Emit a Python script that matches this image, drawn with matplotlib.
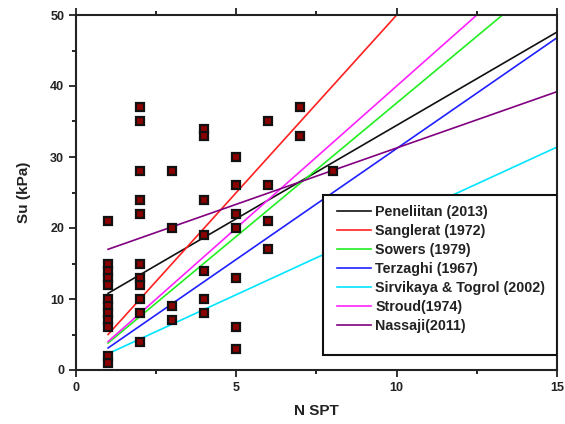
import matplotlib
matplotlib.use("Agg")
import matplotlib.pyplot as plt
from matplotlib.patches import Rectangle
from matplotlib.ticker import MultipleLocator

plt.rcParams['font.family'] = ['Liberation Sans', 'DejaVu Sans']

# Measured data points (N SPT, Su kPa)
n_pts = [1]*12 + [2]*11 + [3]*4 + [4]*7 + [5]*7 + [6]*4 + [7]*2 + [8]
su_pts = [21, 15, 14, 13, 12, 10, 9, 8, 7, 6, 2, 1,
          37, 35, 28, 24, 22, 15, 13, 12, 10, 8, 4,
          28, 20, 9, 7,
          34, 33, 24, 19, 14, 10, 8,
          30, 26, 22, 20, 13, 6, 3,
          35, 26, 21, 17,
          37, 33,
          28]

# Correlation lines: start/end points
labels = ["Peneliitan (2013)", "Sanglerat (1972)", "Sowers (1979)", "Terzaghi (1967)",
          "Sirvikaya & Togrol (2002)", "Stroud(1974)", "Nassaji(2011)"]
colors = ["#111111", "#ff2020", "#22ee22", "#2020ff", "#00e5ff", "#ff22ff", "#800080"]
line_n = [[1, 15], [1, 10], [1, 13.3], [1, 15], [1, 15], [1, 12.5], [1, 15]]
line_su = [[10.8, 47.6], [5.0, 50], [3.8, 50], [3.1, 46.8], [2.3, 31.4], [4.0, 50], [17.0, 39.2]]

x_ticks = [0, 5, 10, 15]
y_ticks = [0, 10, 20, 30, 40, 50]

fig = plt.figure(figsize=(5.65, 4.24), dpi=100)
ax = fig.add_axes([76/565, 54/424, 481/565, 355/424])

handles = []
for lab, c, xs, ys in zip(labels, colors, line_n, line_su):
    h, = ax.plot(xs, ys, color=c, lw=1.2, label=lab, zorder=2)
    handles.append(h)

ax.plot(n_pts, su_pts, linestyle='none', marker='s', ms=5.8,
        markerfacecolor='#8b0000', markeredgecolor='#111111', mew=1.6, zorder=3)

ax.set_xlim(0, 15)
ax.set_ylim(0, 50)
ax.set_xticks(x_ticks)
ax.set_yticks(y_ticks)
ax.xaxis.set_minor_locator(MultipleLocator(2.5))
ax.yaxis.set_minor_locator(MultipleLocator(5))
ax.tick_params(which='major', direction='out', length=5, width=1.3, labelsize=9,
               colors='#222222', top=True, right=False)
ax.tick_params(which='minor', direction='out', length=3, width=1.2, top=True, right=False)
for lbl in ax.get_xticklabels() + ax.get_yticklabels():
    lbl.set_fontweight('bold')
for s in ax.spines.values():
    s.set_linewidth(1.5)
    s.set_color('#222222')

ax.set_xlabel("N SPT", fontsize=11, fontweight='bold', color='#222222', labelpad=7)
ax.set_ylabel("Su (kPa)", fontsize=11, fontweight='bold', color='#222222', labelpad=14)

# legend box
ax.add_patch(Rectangle((0.5135, 0.042), 0.4865, 0.451, transform=ax.transAxes,
                       fill=True, facecolor='white', edgecolor='#111111', lw=1.5, zorder=4))
leg = ax.legend(handles=handles, loc='upper left', bbox_to_anchor=(0.536, 0.474),
                frameon=False, fontsize=10.3, handlelength=2.4, handletextpad=0.3,
                labelspacing=0.36, borderaxespad=0.0, borderpad=0.2)
leg.set_zorder(5)
for t in leg.get_texts():
    t.set_fontweight('bold')
    t.set_color('#222222')

fig.savefig("out.png", dpi=100)
